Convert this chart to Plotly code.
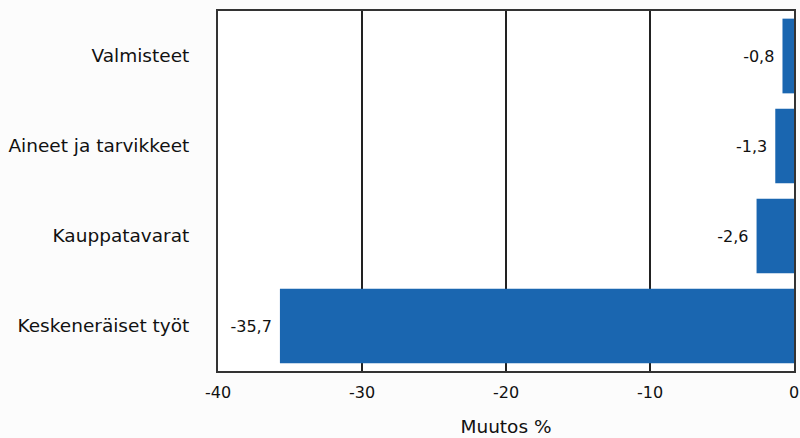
import plotly.graph_objects as go

categories = ["Keskeneräiset työt", "Kauppatavarat", "Aineet ja tarvikkeet", "Valmisteet"]
values = [-35.7, -2.6, -1.3, -0.8]
tick_vals = [-40, -30, -20, -10, 0]
tick_text = ["-40", "-30", "-20", "-10", "0"]

labels = [f"{v:.1f}".replace(".", ",") + " " for v in values]

FONT = "DejaVu Sans, Liberation Sans, Arial"

fig = go.Figure(go.Bar(
    y=categories, x=values, orientation="h",
    marker=dict(color="#1a66b0", line=dict(width=0)),
    text=labels, textposition="outside", cliponaxis=False,
    textfont=dict(family=FONT, size=16, color="#111111"),
))

fig.update_layout(
    width=800, height=438,
    margin=dict(l=218, r=6, t=11, b=67, autoexpand=False),
    paper_bgcolor="#fcfcfc", plot_bgcolor="#ffffff",
    bargap=0.17,
    showlegend=False,
    font=dict(family=FONT, size=18.5, color="#111111"),
    xaxis=dict(
        range=[-40, 0], tickvals=tick_vals, ticktext=tick_text,
        showgrid=True, gridcolor="#222222", gridwidth=1.5,
        zeroline=False, showline=True, linecolor="#333333", linewidth=2, mirror=True,
        ticks="", tickfont=dict(size=16), automargin=False, ticklabelstandoff=6,
        title=dict(text="Muutos %", font=dict(size=18.5), standoff=19),
        layer="above traces",
    ),
    yaxis=dict(
        showgrid=False, zeroline=False, showline=True, linecolor="#333333",
        linewidth=2, mirror=True, ticks="", ticklabelstandoff=23, automargin=False,
        tickfont=dict(size=18.5), layer="above traces",
    ),
)

fig.write_html(
    "out.html",
    config={"displayModeBar": False},
    post_script="document.body.style.margin='0';document.body.style.overflow='hidden';",
)
